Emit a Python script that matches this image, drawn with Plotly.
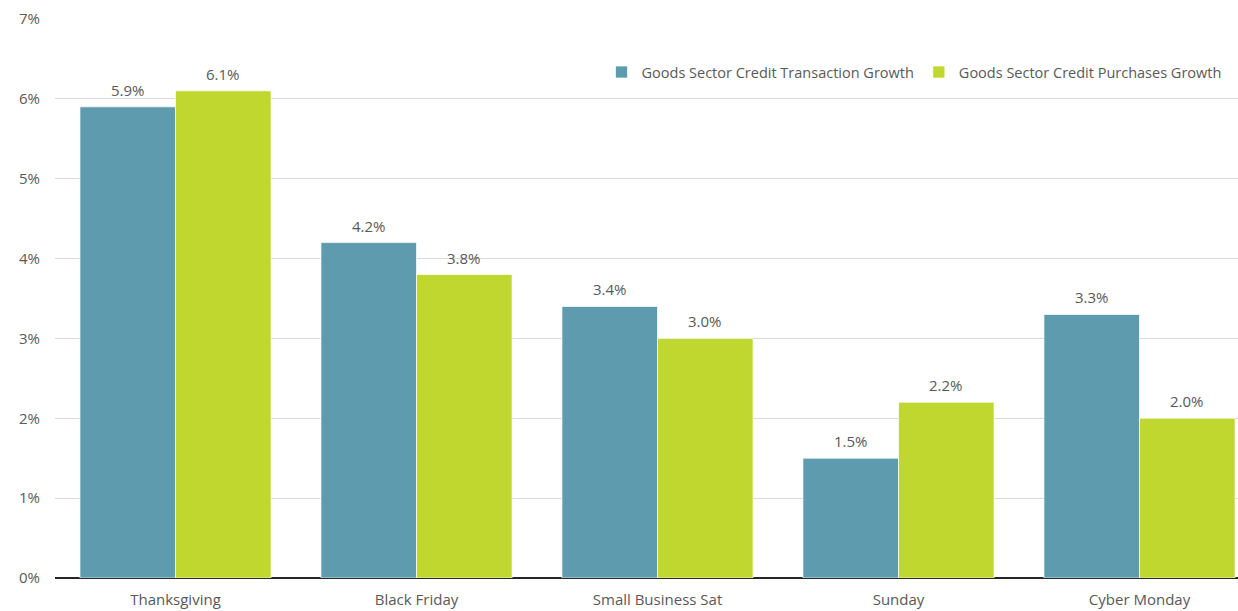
import plotly.graph_objects as go

categories = ["Thanksgiving", "Black Friday", "Small Business Sat", "Sunday", "Cyber Monday"]
transaction_growth = [5.9, 4.2, 3.4, 1.5, 3.3]
purchases_growth = [6.1, 3.8, 3.0, 2.2, 2.0]
series_names = ["Goods Sector Credit Transaction Growth", "Goods Sector Credit Purchases Growth"]
y_ticks = [0, 1, 2, 3, 4, 5, 6, 7]

TEAL = "#5F9BAE"
LIME = "#BFD72E"
FONT = "'Open Sans', Lato, sans-serif"
TEXT_COLOR = "#595959"

fig = go.Figure()
for name, values, color in [(series_names[0], transaction_growth, TEAL),
                            (series_names[1], purchases_growth, LIME)]:
    fig.add_trace(go.Bar(
        name=name,
        x=categories,
        y=values,
        marker=dict(color=color, line=dict(color="rgba(255,255,255,0.7)", width=1)),
    ))

# value labels above each bar
BAR_GAP = 0.207
half = (1 - BAR_GAP) / 4
for i, cat in enumerate(categories):
    for values, off in [(transaction_growth, -half), (purchases_growth, half)]:
        fig.add_annotation(
            x=i + off, y=values[i], xref="x", yref="y",
            text=f"{values[i]:.1f}%", showarrow=False,
            yanchor="bottom", yshift=5,
            font=dict(family=FONT, size=15, color=TEXT_COLOR),
        )

fig.update_layout(
    width=1238, height=611,
    margin=dict(l=55, r=0, t=19, b=33, autoexpand=False),
    plot_bgcolor="white", paper_bgcolor="white",
    barmode="group", bargap=BAR_GAP, bargroupgap=0,
    font=dict(family=FONT, size=15, color=TEXT_COLOR),
    showlegend=True,
    legend=dict(
        orientation="h", x=0.462, xanchor="left", y=0.905, yanchor="middle",
        bgcolor="rgba(0,0,0,0)", font=dict(family=FONT, size=14.5, color=TEXT_COLOR),
        traceorder="normal",
    ),
    xaxis=dict(
        type="category", range=[-0.5, -0.5 + 1183 / 241],
        showgrid=False, ticks="outside", ticklen=8, tickcolor="rgba(0,0,0,0)",
        showline=False, zeroline=False,
    ),
    yaxis=dict(
        range=[0, 7], tickvals=y_ticks, ticktext=[f"{v}%" for v in y_ticks],
        showgrid=True, gridcolor="#D9D9D9", gridwidth=1,
        zeroline=True, zerolinecolor="#262626", zerolinewidth=2,
        ticklabelstandoff=14, showline=False,
    ),
)

fig.write_html("out.html")
